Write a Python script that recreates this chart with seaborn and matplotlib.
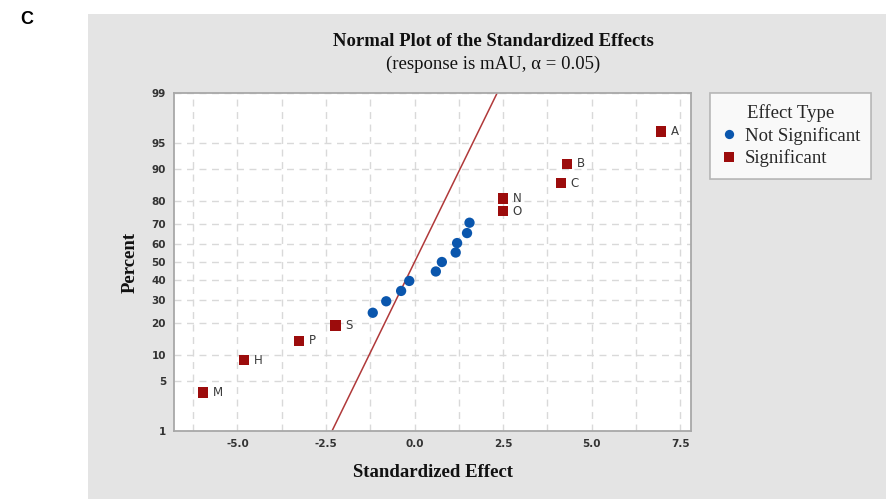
import numpy as np
import pandas as pd
import matplotlib
matplotlib.use("Agg")
import matplotlib.pyplot as plt
from matplotlib.patches import Rectangle
from matplotlib.ticker import FixedLocator, MultipleLocator, FormatStrFormatter
import seaborn as sns

# ---------------- data ----------------
sig_labels = ["M", "H", "P", "S", "O", "N", "C", "B", "A"]
sig_effect = [-5.97, -4.81, -3.26, -2.23, 2.49, 2.49, 4.13, 4.31, 6.95]
sig_percent = [3.6, 8.8, 13.9, 19.1, 75.8, 80.9, 86.1, 91.2, 96.4]

ns_effect = [-1.18, -0.80, -0.38, -0.15, 0.60, 0.77, 1.16, 1.20, 1.48, 1.55]
ns_percent = [24.2, 29.4, 34.5, 39.7, 44.8, 50.0, 55.2, 60.3, 65.5, 70.6]

line_effect = [-2.326, 2.326]
line_percent = [1.0, 99.0]

y_ticks = [1, 5, 10, 20, 30, 40, 50, 60, 70, 80, 90, 95, 99]
hue_order = ["Not Significant", "Significant"]

df = pd.DataFrame({
    "Standardized Effect": ns_effect + sig_effect,
    "Percent": ns_percent + sig_percent,
    "Effect Type": ["Not Significant"] * len(ns_effect) + ["Significant"] * len(sig_effect),
})

# ---------------- normal probability scale ----------------
def _ppf(p):
    p = np.clip(np.asarray(p, dtype=float), 1e-9, 1 - 1e-9)
    a = [-3.969683028665376e+01, 2.209460984245205e+02, -2.759285104469687e+02,
         1.383577518672690e+02, -3.066479806614716e+01, 2.506628277459239e+00]
    b = [-5.447609879822406e+01, 1.615858368580409e+02, -1.556989798598866e+02,
         6.680131188771972e+01, -1.328068155288572e+01]
    c = [-7.784894002430293e-03, -3.223964580411365e-01, -2.400758277161838e+00,
         -2.549732539343734e+00, 4.374664141464968e+00, 2.938163982698783e+00]
    d = [7.784695709041462e-03, 3.224671290700398e-01, 2.445134137142996e+00,
         3.754408661907416e+00]
    plow, phigh = 0.02425, 1 - 0.02425
    out = np.empty_like(p)
    lo = p < plow
    hi = p > phigh
    mid = ~(lo | hi)
    q = np.sqrt(-2 * np.log(p[lo]))
    out[lo] = (((((c[0]*q+c[1])*q+c[2])*q+c[3])*q+c[4])*q+c[5]) / ((((d[0]*q+d[1])*q+d[2])*q+d[3])*q+1)
    q = np.sqrt(-2 * np.log(1 - p[hi]))
    out[hi] = -(((((c[0]*q+c[1])*q+c[2])*q+c[3])*q+c[4])*q+c[5]) / ((((d[0]*q+d[1])*q+d[2])*q+d[3])*q+1)
    q = p[mid] - 0.5
    r = q * q
    out[mid] = (((((a[0]*r+a[1])*r+a[2])*r+a[3])*r+a[4])*r+a[5])*q / (((((b[0]*r+b[1])*r+b[2])*r+b[3])*r+b[4])*r+1)
    return out

def _erf(x):
    x = np.asarray(x, dtype=float)
    s = np.sign(x)
    x = np.abs(x)
    t = 1.0 / (1.0 + 0.3275911 * x)
    y = 1 - (((((1.061405429*t - 1.453152027)*t) + 1.421413741)*t - 0.284496736)*t + 0.254829592)*t*np.exp(-x*x)
    return s * y

def fwd(v):
    return _ppf(np.asarray(v, dtype=float) / 100.0)

def inv(z):
    return 50.0 * (1 + _erf(np.asarray(z, dtype=float) / np.sqrt(2)))

# ---------------- figure ----------------
sns.set_theme(style="white")
W, H = 886, 499
fig = plt.figure(figsize=(W / 100, H / 100), dpi=100)
fig.patch.set_facecolor("white")
fig.add_artist(Rectangle((88 / W, 0), (W - 88) / W, (H - 14) / H,
                         transform=fig.transFigure, facecolor="#e4e4e4",
                         edgecolor="none", zorder=-10))

ax = fig.add_axes([174.3 / W, 1 - 430.7 / H, (691 - 174.3) / W, (430.7 - 93.3) / H])
ax.set_facecolor("white")
ax.set_yscale("function", functions=(fwd, inv))

red = "#9c0c0c"
blue = "#0a56ad"

ax.plot(line_effect, line_percent, color="#b0393a", lw=1.1, zorder=2)

sns.scatterplot(data=df, x="Standardized Effect", y="Percent", hue="Effect Type",
                style="Effect Type", hue_order=hue_order, style_order=hue_order,
                palette={"Not Significant": blue, "Significant": red},
                markers={"Not Significant": "o", "Significant": "s"},
                s=55, edgecolor="none", linewidth=0, ax=ax, zorder=3, legend=True)

for lab, xv, yv in zip(sig_labels, sig_effect, sig_percent):
    ax.annotate(lab, (xv, yv), xytext=(7, 0), textcoords="offset points",
                ha="left", va="center", fontsize=8.5, color="#3a3a3a",
                family="DejaVu Sans")

ax.set_xlim(-6.78, 7.8)
ax.set_ylim(1, 99)
ax.yaxis.set_major_locator(FixedLocator(y_ticks))
ax.yaxis.set_minor_locator(FixedLocator([]))
ax.set_yticklabels([str(t) for t in y_ticks])
ax.xaxis.set_major_locator(MultipleLocator(2.5))
ax.xaxis.set_minor_locator(MultipleLocator(1.25))
ax.xaxis.set_major_formatter(FormatStrFormatter("%.1f"))

grid_kw = dict(color="#d9d9d9", linestyle=(0, (5, 4)), linewidth=1.0)
ax.grid(True, which="both", axis="x", **grid_kw)
ax.grid(True, which="major", axis="y", **grid_kw)
ax.set_axisbelow(True)

for sp in ax.spines.values():
    sp.set_color("#a8a8a8")
    sp.set_linewidth(1.3)

ax.tick_params(axis="both", which="major", direction="out", length=4, width=1,
               color="#a8a8a8", labelsize=7.5, labelcolor="#333333", pad=2)
ax.tick_params(axis="x", which="minor", length=0)
for lbl in ax.get_xticklabels() + ax.get_yticklabels():
    lbl.set_fontweight("bold")
    lbl.set_family("DejaVu Sans")

serif = "Liberation Serif"
ax.set_xlabel("Standardized Effect", family=serif, fontweight="bold",
              fontsize=13.5, color="#111111", labelpad=11)
ax.set_ylabel("Percent", family=serif, fontweight="bold",
              fontsize=13.5, color="#111111", labelpad=9)

fig.text(493 / W, 1 - 42 / H, "Normal Plot of the Standardized Effects", family=serif,
         fontweight="bold", fontsize=13.5, ha="center", va="center", color="#111111")
fig.text(493 / W, 1 - 64 / H, "(response is mAU, \u03b1 = 0.05)", family=serif,
         fontsize=13.5, ha="center", va="center", color="#111111")
fig.text(20 / W, 1 - 20 / H, "C", family="Liberation Sans", fontweight="bold",
         fontsize=13, ha="left", va="center", color="black")

handles, labels = ax.get_legend_handles_labels()
ax.get_legend().remove()
leg = fig.legend(handles, labels, title="Effect Type", loc="upper left",
                 bbox_to_anchor=(710 / W, 1 - 93 / H), frameon=True, fancybox=False,
                 prop={"family": serif, "size": 13.5}, handletextpad=0.45,
                 borderpad=0.6, labelspacing=0.25, handlelength=0.8,
                 borderaxespad=0, markerscale=0.9)
leg.get_title().set_family(serif)
leg.get_title().set_fontsize(13.5)
leg.get_frame().set_edgecolor("#a8a8a8")
leg.get_frame().set_linewidth(1.2)
leg.get_frame().set_facecolor("white")

fig.savefig("out.png", dpi=100)
